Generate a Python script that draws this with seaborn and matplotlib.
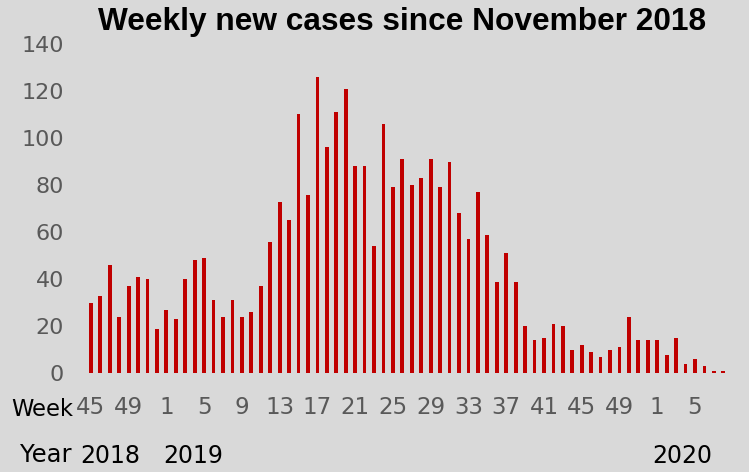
import matplotlib
matplotlib.use("Agg")
import matplotlib.pyplot as plt
import seaborn as sns
import pandas as pd
import numpy as np

# Data
weeks = [45, 46, 47, 48, 49, 50, 51, 52] + list(range(1, 53)) + list(range(1, 9))
years = [2018] * 8 + [2019] * 52 + [2020] * 8
cases = [30, 33, 46, 24, 37, 41, 40, 19,
         27, 23, 40, 48, 49, 31, 24, 31,
         24, 26, 37, 56, 73, 65, 110, 76,
         126, 96, 111, 121, 88, 88, 54, 106,
         79, 91, 80, 83, 91, 79, 90, 68,
         57, 77, 59, 39, 51, 39, 20, 14,
         15, 21, 20, 10, 12, 9, 7, 10,
         11, 24, 14, 14,
         14, 8, 15, 4, 6, 3, 1, 1]
tick_every = 4
year_labels = ["2018", "2019", "2020"]
y_ticks = [0, 20, 40, 60, 80, 100, 120, 140]
title = "Weekly new cases since November 2018"

df = pd.DataFrame({"idx": np.arange(len(cases)), "week": weeks, "year": years, "cases": cases})

sns.set_theme(style="white")
plt.rcParams["font.family"] = ["DejaVu Sans"]

bg = "#d9d9d9"
fig = plt.figure(figsize=(7.49, 4.72), dpi=100, facecolor=bg)
ax = fig.add_axes([0.115, 0.209, 0.857, 0.698])
ax.set_facecolor(bg)

sns.barplot(data=df, x="idx", y="cases", color="#c00000", width=0.4,
            saturation=1, ax=ax, edgecolor="none")

ax.set_xlim(-0.5, len(cases) - 0.5)
ax.set_ylim(0, 140)
for s in ax.spines.values():
    s.set_visible(False)

tick_pos = list(range(0, len(cases), tick_every))
ax.set_xticks(tick_pos)
ax.set_xticklabels([str(weeks[i]) for i in tick_pos], fontsize=16.5,
                   color="#595959")
ax.set_yticks(y_ticks)
ax.set_yticklabels([str(v) for v in y_ticks], fontsize=16, color="#595959")
ax.tick_params(axis="both", length=0)
ax.tick_params(axis="x", pad=16)
ax.tick_params(axis="y", pad=16)
ax.set_xlabel("")
ax.set_ylabel("")

fig.text(402 / 749, 1 - 22 / 472, title, ha="center", va="center",
         fontsize=22.8, fontweight="bold", family="Liberation Sans", color="black")

fig.text(11 / 749, 1 - 409 / 472, "Week", ha="left", va="center", fontsize=16.3,
         color="black")
fig.text(20 / 749, 1 - 455 / 472, "Year", ha="left", va="center", fontsize=17.5,
         color="black")

# year label positions (in bar index units)
year_pos = [2.1, 10.8, 62.7]
for lab, p in zip(year_labels, year_pos):
    x_fig = fig.transFigure.inverted().transform(ax.transData.transform((p, 0)))[0]
    fig.text(x_fig, 1 - 456 / 472, lab, ha="center", va="center", fontsize=17,
             color="black")

fig.savefig("out.png", dpi=100, facecolor=bg)
